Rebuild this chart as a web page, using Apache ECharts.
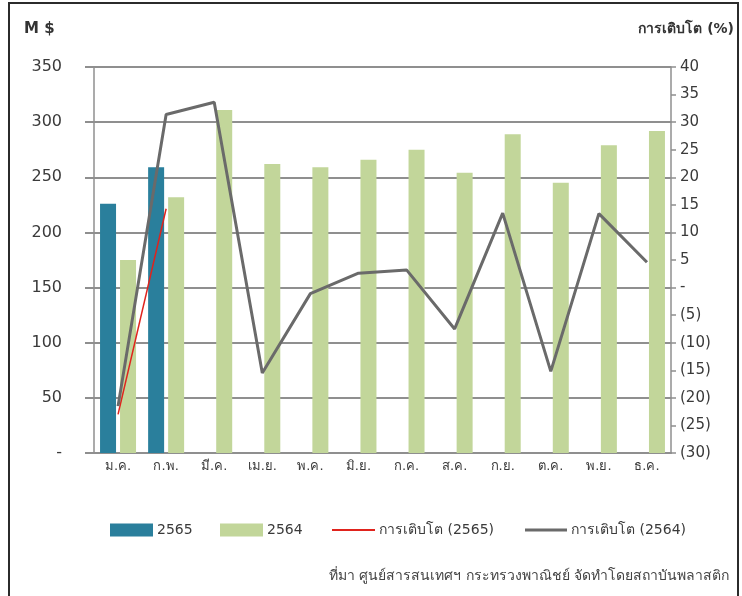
<!DOCTYPE html>
<html><head><meta charset="utf-8">
<script src="https://cdn.jsdelivr.net/npm/echarts@6/dist/echarts.min.js"></script>
<style>html,body{margin:0;padding:0;background:#fff}#c{width:742px;height:596px}</style>
</head><body><div id="c"></div>
<script>
var categories = ['ม.ค.','ก.พ.','มี.ค.','เม.ย.','พ.ค.','มิ.ย.','ก.ค.','ส.ค.','ก.ย.','ต.ค.','พ.ย.','ธ.ค.'];
var value2565 = [226, 259, null, null, null, null, null, null, null, null, null, null];
var value2564 = [175, 232, 311, 262, 259, 266, 275, 254, 289, 245, 279, 292];
var growth2565 = [-23, 14.3, null, null, null, null, null, null, null, null, null, null];
var growth2564 = [-21.5, 31.4, 33.6, -15.5, -1.1, 2.6, 3.2, -7.5, 13.5, -15.2, 13.4, 4.6];
var leftTicks = {min: 0, max: 350, interval: 50};
var rightTicks = {min: -30, max: 40, interval: 5};

var FONT = 'DejaVu Sans, Noto Sans, sans-serif';
var TXT = '#3a3a3a';
var GRID = '#8f8f8f';
var chart = echarts.init(document.getElementById('c'), null, {renderer: 'canvas'});
function legendAt(left, name, w, h) {
  return {
    left: left, top: 523, padding: 0, itemWidth: w, itemHeight: h, itemGap: 0,
    data: [{name: name, icon: 'rect'}], selectedMode: false,
    textStyle: {fontFamily: FONT, fontSize: 14, color: TXT, padding: [0,0,0,-1]}
  };
}
chart.setOption({
  backgroundColor: '#fff',
  animation: false,
  textStyle: {fontFamily: FONT},
  grid: {left: 94, right: 71, top: 67, bottom: 143, containLabel: false},
  legend: [
    legendAt(110, '2565', 43, 13),
    legendAt(220, '2564', 43, 13),
    legendAt(332, 'การเติบโต (2565)', 43, 2),
    legendAt(525, 'การเติบโต (2564)', 42, 3)
  ],
  graphic: [
    {type: 'rect', shape: {x: 9, y: 3, width: 729, height: 640}, style: {fill: 'none', stroke: '#2b2b2b', lineWidth: 2}, silent: true},
    {type: 'text', left: 24, top: 22, style: {text: 'M $', font: 'bold 15px ' + FONT, fill: '#333'}},
    {type: 'text', right: 8, top: 22, style: {text: 'การเติบโต (%)', font: 'bold 14px ' + FONT, fill: '#333'}},
    {type: 'text', right: 13, top: 569, style: {text: 'ที่มา ศูนย์สารสนเทศฯ กระทรวงพาณิชย์ จัดทำโดยสถาบันพลาสติก', font: '14px ' + FONT, fill: '#444'}}
  ],
  xAxis: {
    type: 'category', data: categories,
    axisLine: {show: true, lineStyle: {color: GRID, width: 2}},
    axisTick: {show: false},
    axisLabel: {fontFamily: FONT, fontSize: 13, color: TXT, margin: 7}
  },
  yAxis: [
    {
      type: 'value', min: leftTicks.min, max: leftTicks.max, interval: leftTicks.interval,
      position: 'left',
      axisLine: {show: true, lineStyle: {color: GRID, width: 1.5}},
      axisTick: {show: true, length: 9, lineStyle: {color: GRID, width: 2}},
      splitLine: {show: true, lineStyle: {color: GRID, width: 2}},
      axisLabel: {fontFamily: FONT, fontSize: 16, color: TXT, margin: 32,
        formatter: function (v) { return v === 0 ? '-' : String(v); }}
    },
    {
      type: 'value', min: rightTicks.min, max: rightTicks.max, interval: rightTicks.interval,
      position: 'right',
      axisLine: {show: true, lineStyle: {color: GRID, width: 1.5}},
      axisTick: {show: true, length: 5, lineStyle: {color: GRID, width: 1.5}},
      splitLine: {show: false},
      axisLabel: {fontFamily: FONT, fontSize: 15, color: TXT, margin: 9,
        formatter: function (v) { return v === 0 ? '-' : (v < 0 ? '(' + (-v) + ')' : String(v)); }}
    }
  ],
  series: [
    {name: '2565', type: 'bar', data: value2565, barWidth: 16, barGap: '25%',
      itemStyle: {color: '#2a7f9c'}},
    {name: '2564', type: 'bar', data: value2564, barWidth: 16,
      itemStyle: {color: '#c2d69a'}},
    {name: 'การเติบโต (2565)', type: 'line', yAxisIndex: 1, data: growth2565,
      symbol: 'none', lineStyle: {color: '#e0231d', width: 1.5}, itemStyle: {color: '#e0231d'}},
    {name: 'การเติบโต (2564)', type: 'line', yAxisIndex: 1, data: growth2564,
      symbol: 'none', lineStyle: {color: '#6a6a6a', width: 3}, itemStyle: {color: '#6a6a6a'}}
  ]
});
</script></body></html>
